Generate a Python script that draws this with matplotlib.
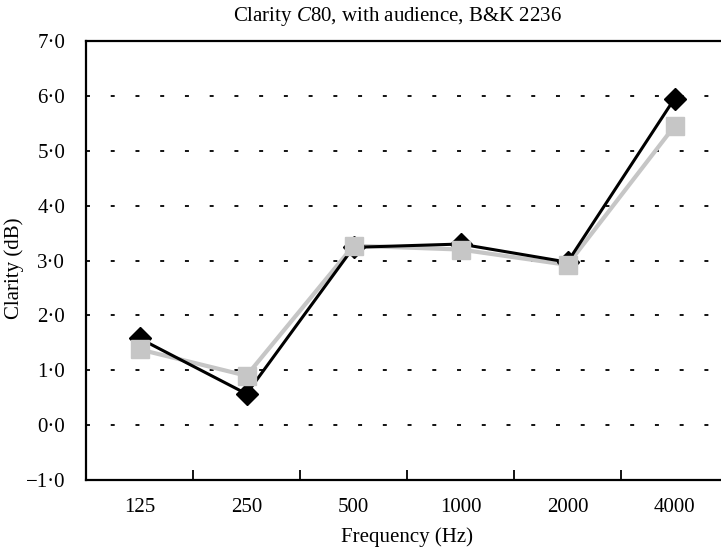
"""Clarity C80 with audience, measured with B&K 2236."""

import matplotlib
import matplotlib.pyplot as plt

matplotlib.use('Agg')

plt.rcParams['font.family'] = ['Liberation Serif', 'DejaVu Serif']
plt.rcParams['mathtext.fontset'] = 'custom'
plt.rcParams['mathtext.rm'] = 'Liberation Serif'
plt.rcParams['mathtext.it'] = 'Liberation Serif:italic'

# data
frequencies = ['125', '250', '500', '1000', '2000', '4000']
clarity_black = [1.58, 0.57, 3.24, 3.30, 2.97, 5.95]
clarity_grey = [1.38, 0.90, 3.27, 3.20, 2.92, 5.45]
y_ticks = [-1, 0, 1, 2, 3, 4, 5, 6, 7]
y_tick_labels = ['\u22121\u00b70', '0\u00b70', '1\u00b70', '2\u00b70', '3\u00b70',
                 '4\u00b70', '5\u00b70', '6\u00b70', '7\u00b70']

fig = plt.figure(figsize=(7.21, 5.52), dpi=100)
ax = fig.add_axes([86 / 721, 1 - 480 / 552, 642 / 721, 439 / 552])

x = list(range(len(frequencies)))

# horizontal dashed grid at 0..6
for val in y_ticks[1:-1]:
    ax.axhline(val, color='black', lw=1.3, linestyle=(0, (2.2, 11.5)), zorder=1)

# lines: black over grey; markers: grey squares over black diamonds
ax.plot(x, clarity_grey, color='#c6c6c6', lw=3, zorder=2)
ax.plot(x, clarity_black, color='black', lw=2.2, zorder=3)
ax.plot(x, clarity_black, linestyle='none', marker='D', markersize=11,
        color='black', zorder=4)
ax.plot(x, clarity_grey, linestyle='none', marker='s', markersize=13,
        color='#c6c6c6', zorder=5)

ax.set_xlim(-0.5, len(frequencies) - 0.5)
ax.set_ylim(-1, 7)

ax.set_xticks(x)
ax.set_xticklabels(frequencies, fontsize=15)
ax.set_xticks([i + 0.5 for i in x[:-1]], minor=True)
ax.tick_params(axis='x', which='major', length=0, pad=13)
ax.tick_params(axis='x', which='minor', direction='in', length=7, width=1.3)

ax.set_yticks(y_ticks)
ax.set_yticklabels(y_tick_labels, fontsize=15)
ax.tick_params(axis='y', length=0, pad=15)

for side in ['left', 'top', 'bottom']:
    ax.spines[side].set_linewidth(1.6)
ax.spines['right'].set_visible(False)

ax.set_xlabel('Frequency (Hz)', fontsize=15)
ax.xaxis.set_label_coords((407 - 86) / 642, -(527 - 480) / 439)
ax.set_ylabel('Clarity (dB)', fontsize=15)
ax.yaxis.set_label_coords(-(86 - 24) / 642, (480 - 268) / 439)

fig.text(397 / 721, 1 - 17 / 552, r'Clarity $\mathit{C}$80, with audience, B&K 2236',
         ha='center', va='center', fontsize=15)

fig.savefig('out.png', dpi=100)
plt.close(fig)
